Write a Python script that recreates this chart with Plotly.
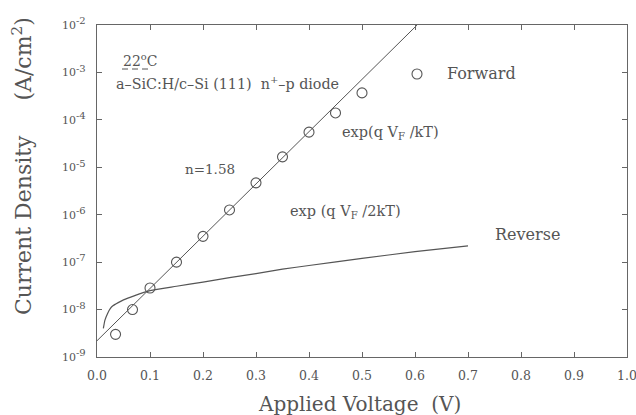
import plotly.graph_objects as go

# Forward data (circles)
fwd_v = [0.035, 0.067, 0.10, 0.15, 0.20, 0.25, 0.30, 0.35, 0.40, 0.45, 0.50]
fwd_j = [3.0e-9, 1.0e-8, 2.85e-8, 1.0e-7, 3.5e-7, 1.26e-6, 4.7e-6, 1.66e-5, 5.5e-5, 1.4e-4, 3.7e-4]

# Ideality fit line (n = 1.58)
fit_v = [0.0, 0.604]
fit_j = [2.2e-9, 1.0e-2]

# Reverse current curve
rev_v = [0.012, 0.015, 0.02, 0.025, 0.03, 0.04, 0.05, 0.07, 0.10, 0.15, 0.20,
         0.25, 0.30, 0.35, 0.40, 0.50, 0.60, 0.70]
rev_j = [4.0e-9, 6.0e-9, 8.3e-9, 1.05e-8, 1.2e-8, 1.4e-8, 1.6e-8, 1.95e-8, 2.5e-8,
         3.1e-8, 3.8e-8, 4.7e-8, 5.75e-8, 7.1e-8, 8.5e-8, 1.2e-7, 1.66e-7, 2.2e-7]

x_ticks = [0.0, 0.1, 0.2, 0.3, 0.4, 0.5, 0.6, 0.7, 0.8, 0.9, 1.0]
x_labels = ["0.0", "0.1", "0.2", "0.3", "0.4", "0.5", "0.6", "0.7", "0.8", "0.9", "1.0"]
y_ticks = [1e-9, 1e-8, 1e-7, 1e-6, 1e-5, 1e-4, 1e-3, 1e-2]
y_exps = ["-9", "-8", "-7", "-6", "-5", "-4", "-3", "-2"]

FONT = "DejaVu Serif"
TXT = "#555555"
LINE = "#555555"

y_labels = ["10<sup><span style='font-size:10px'>%s</span></sup>" % e for e in y_exps]

fig = go.Figure()
fig.add_trace(go.Scatter(x=fit_v, y=fit_j, mode="lines",
                         line=dict(color=LINE, width=1), showlegend=False))
fig.add_trace(go.Scatter(x=rev_v, y=rev_j, mode="lines", line_shape="spline",
                         line=dict(color=LINE, width=1.2, smoothing=0.6), showlegend=False))
fig.add_trace(go.Scatter(x=fwd_v, y=fwd_j, mode="markers",
                         marker=dict(symbol="circle-open", size=10, color=LINE,
                                     line=dict(color=LINE, width=1.1)),
                         showlegend=False))

axis_common = dict(showline=True, mirror="ticks", linecolor="#666666", linewidth=1.2,
                   ticks="inside", ticklen=5, tickcolor="#666666", tickwidth=1,
                   showgrid=False, zeroline=False, ticklabeloverflow="allow")

fig.update_xaxes(range=[0, 1], tickmode="array", tickvals=x_ticks, ticktext=x_labels,
                 tickfont=dict(family=FONT, size=12.5, color=TXT), ticklabelstandoff=7,
                 **axis_common)
fig.update_yaxes(type="log", range=[-9, -2], tickmode="array", tickvals=y_ticks,
                 ticktext=y_labels, tickfont=dict(family=FONT, size=11, color=TXT),
                 ticklabelstandoff=8, **axis_common)

def px_x(p):
    return (p - 97) / 530.0

def px_y(p):
    return (357 - p) / 332.0

annots = [
    dict(text="22<sup>o</sup>C", x=px_x(121), y=px_y(60), size=14),
    dict(text="a–SiC:H/c–Si (111)&nbsp; n<sup>+</sup>–p diode", x=px_x(114), y=px_y(83), size=14.3),
    dict(text="n=1.58", x=px_x(183), y=px_y(169), size=13.5),
    dict(text="exp(q V<sub>F</sub> /kT)", x=px_x(340), y=px_y(133), size=14.5),
    dict(text="exp (q V<sub>F</sub> /2kT)", x=px_x(288), y=px_y(212), size=14.5),
    dict(text="Forward", x=px_x(445), y=px_y(73), size=16),
    dict(text="Reverse", x=px_x(493), y=px_y(234), size=16),
]
for a in annots:
    fig.add_annotation(text=a["text"], x=a["x"], y=a["y"], xref="paper", yref="paper",
                       xanchor="left", yanchor="middle", showarrow=False,
                       font=dict(family=FONT, size=a["size"], color=TXT))

fig.add_annotation(text="Current Density&nbsp;&nbsp;&nbsp;&nbsp;&nbsp;(A/cm<sup>2</sup>)",
                   textangle=-90, x=px_x(22), y=px_y(166), xref="paper", yref="paper",
                   xanchor="center", yanchor="middle", showarrow=False,
                   font=dict(family=FONT, size=22, color=TXT))
fig.add_annotation(text="Applied Voltage&nbsp;&nbsp;(V)", x=px_x(359), y=px_y(404),
                   xref="paper", yref="paper", xanchor="center", yanchor="middle",
                   showarrow=False, font=dict(family=FONT, size=20, color=TXT))

# dashed underline under 22 C
fig.add_shape(type="line", xref="paper", yref="paper", x0=px_x(122), x1=px_x(152),
              y0=px_y(69), y1=px_y(69), line=dict(color=TXT, width=1, dash="6px,4px"))
# legend key circle for Forward
fig.add_shape(type="circle", xref="paper", yref="paper", xsizemode="pixel",
              ysizemode="pixel", xanchor=px_x(417), yanchor=px_y(74),
              x0=-5, x1=5, y0=-5, y1=5, line=dict(color=LINE, width=1.1))

fig.update_layout(template="none", width=636, height=415,
                  margin=dict(l=97, r=9, t=25, b=58, autoexpand=False),
                  font=dict(family=FONT, size=13, color=TXT),
                  plot_bgcolor="white", paper_bgcolor="white")

fig.write_html("out.html", config={"displayModeBar": False},
               post_script="document.body.style.margin='0';document.body.style.overflow='hidden';")
